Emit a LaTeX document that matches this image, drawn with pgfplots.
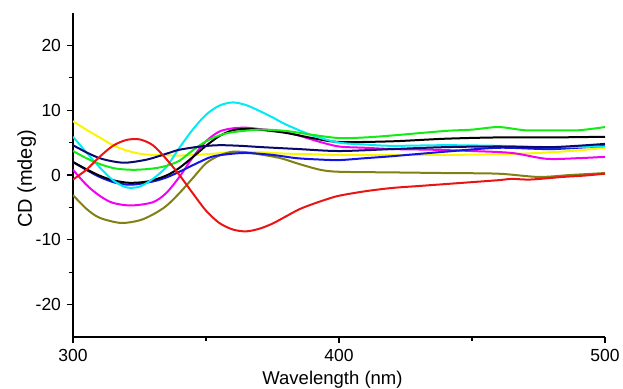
\documentclass[border=0pt]{standalone}
\usepackage{fontspec}
\setmainfont{Liberation Sans}
\usepackage{pgfplots}
\pgfplotsset{compat=1.18}
\definecolor{cgreen}{RGB}{20,235,20}
\definecolor{ccyan}{RGB}{0,235,245}
\definecolor{cyel}{RGB}{250,245,0}
\definecolor{cmag}{RGB}{245,0,245}
\definecolor{cnavy}{RGB}{10,10,110}
\definecolor{cblue}{RGB}{20,20,225}
\definecolor{colive}{RGB}{128,128,20}
\definecolor{cred}{RGB}{235,20,20}
\begin{document}
\fontsize{17.5bp}{20bp}\selectfont
\begin{tikzpicture}
\useasboundingbox (-73bp,-52bp) rectangle (550bp,337bp);
\begin{axis}[
  at={(0,0)}, anchor=south west,
  scale only axis, width=532bp, height=324bp,
  xmin=300, xmax=500, ymin=-25, ymax=25,
  axis x line*=bottom, axis y line*=left,
  axis line style={line width=1.6bp},
  xtick={300,400,500}, minor xtick={350,450},
  ytick={-20,-10,0,10,20}, minor ytick={-15,-5,5,15},
  tick align=outside,
  major tick length=6bp, minor tick length=4bp,
  every tick/.style={black, line width=1.2bp},
  tick label style={font=\fontsize{17.5bp}{20bp}\selectfont},
  /pgf/number format/assume math mode=true,
  xlabel={Wavelength (nm)}, ylabel={CD (mdeg)},
  xlabel style={font=\fontsize{18.5bp}{21bp}\selectfont, at={(axis description cs:0.4878,-0.148)}, anchor=base},
  ylabel style={font=\fontsize{20bp}{23bp}\selectfont, at={(axis description cs:-0.0771,0.4877)}, anchor=base},
  every axis plot/.append style={line width=2bp, smooth, tension=0.5, no marks},
  clip=true,
]
% yellow
\addplot[cyel] coordinates {(300,8.3)(305,7.0)(310,5.8)(315,4.6)(320,3.8)(325,3.3)(330,3.1)(340,3.0)(350,3.2)(360,3.5)(370,3.5)(380,3.3)(390,3.2)(400,3.1)(420,3.1)(440,3.1)(460,3.2)(475,3.4)(490,3.8)(500,4.2)};
% olive
\addplot[colive] coordinates {(300,-3.1)(305,-5.2)(310,-6.6)(318,-7.4)(325,-7.0)(330,-6.1)(335,-4.8)(340,-2.8)(345,-0.5)(350,1.8)(355,3.0)(360,3.6)(365,3.5)(370,3.2)(378,2.6)(385,1.7)(393,0.8)(400,0.5)(420,0.4)(440,0.3)(460,0.2)(475,-0.3)(487,0.0)(500,0.3)};
% magenta
\addplot[cmag] coordinates {(300,0.8)(305,-1.5)(310,-3.2)(315,-4.3)(322,-4.7)(330,-4.2)(335,-2.8)(340,-0.3)(345,2.7)(350,5.2)(355,6.7)(360,7.2)(365,7.3)(370,7.1)(377,6.8)(384,6.2)(392,5.2)(400,4.4)(410,4.2)(420,4.0)(435,3.9)(450,3.7)(465,3.4)(478,2.5)(490,2.6)(500,2.8)};
% blue
\addplot[cblue] coordinates {(300,2.0)(305,0.8)(310,-0.3)(316,-1.2)(322,-1.5)(330,-1.0)(335,-0.4)(340,0.5)(346,1.7)(352,2.8)(358,3.2)(365,3.4)(375,3.1)(384,2.6)(392,2.4)(400,2.3)(410,2.6)(420,2.9)(440,3.6)(460,4.2)(480,4.0)(500,4.5)};
% black
\addplot[black] coordinates {(300,2.0)(305,0.9)(310,-0.1)(315,-0.8)(321,-1.2)(328,-1.0)(335,-0.1)(340,1.1)(346,3.1)(350,4.5)(355,6.0)(360,6.9)(365,7.1)(370,7.0)(380,6.5)(390,5.7)(400,5.1)(420,5.2)(440,5.6)(460,5.8)(480,5.8)(500,5.9)};
% cyan
\addplot[ccyan] coordinates {(300,5.9)(305,3.5)(310,1.2)(315,-0.8)(320,-1.9)(325,-1.8)(330,-0.6)(335,1.2)(340,4.2)(345,7.0)(350,9.3)(355,10.7)(360,11.2)(365,10.8)(370,9.9)(375,8.9)(380,7.8)(390,6.1)(400,5.0)(410,4.7)(420,4.5)(440,4.6)(460,4.5)(480,4.3)(500,4.4)};
% green
\addplot[cgreen] coordinates {(300,3.7)(305,2.6)(310,1.7)(316,1.0)(323,0.8)(330,1.0)(335,1.4)(340,2.2)(345,3.8)(350,5.2)(355,6.1)(360,6.6)(370,7.0)(380,6.8)(390,6.2)(400,5.7)(410,5.8)(420,6.1)(440,6.8)(450,7.0)(460,7.4)(470,6.9)(480,6.9)(490,6.9)(500,7.4)};
% navy
\addplot[cnavy] coordinates {(300,4.6)(305,3.5)(310,2.6)(315,2.1)(320,1.9)(328,2.4)(336,3.4)(340,3.9)(348,4.4)(355,4.6)(363,4.5)(371,4.3)(385,4.0)(400,3.7)(420,4.0)(440,4.3)(460,4.4)(480,4.3)(500,4.8)};
% red
\addplot[cred] coordinates {(300,-0.7)(305,0.8)(310,2.8)(315,4.5)(320,5.4)(325,5.5)(330,4.6)(335,2.5)(340,0.0)(345,-2.8)(350,-5.5)(355,-7.4)(360,-8.4)(365,-8.7)(370,-8.3)(375,-7.5)(380,-6.4)(385,-5.3)(390,-4.5)(395,-3.8)(400,-3.2)(410,-2.5)(420,-2.0)(430,-1.7)(440,-1.4)(450,-1.1)(460,-0.8)(465,-0.6)(472,-0.7)(484,-0.3)(492,-0.1)(500,0.2)};
\end{axis}
\end{tikzpicture}
\end{document}
